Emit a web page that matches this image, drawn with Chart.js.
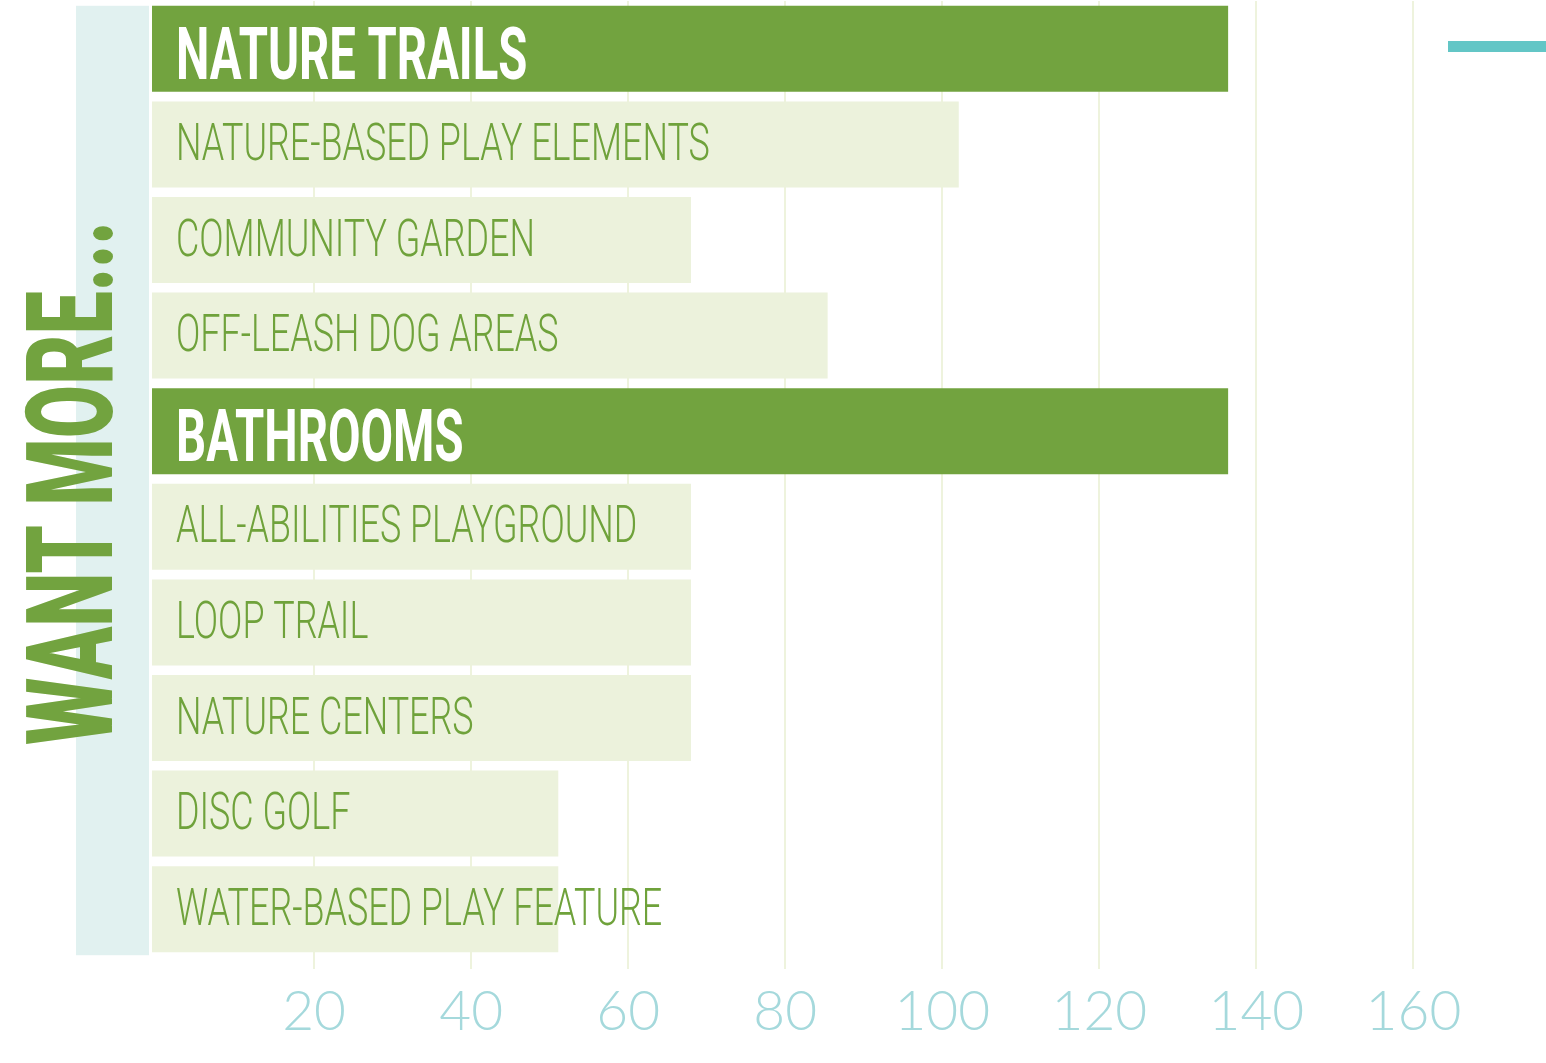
<!DOCTYPE html>
<html><head><meta charset="utf-8">
<script src="https://cdn.jsdelivr.net/npm/chart.js@4.4.1/dist/chart.umd.min.js"></script>
<style>html,body{margin:0;padding:0;background:#fff;}#wrap{width:1546px;height:1063px;position:relative;}</style>
</head><body><div id="wrap"><canvas id="c"></canvas></div>
<script>
const categories = ['NATURE TRAILS','NATURE-BASED PLAY ELEMENTS','COMMUNITY GARDEN','OFF-LEASH DOG AREAS','BATHROOMS','ALL-ABILITIES PLAYGROUND','LOOP TRAIL','NATURE CENTERS','DISC GOLF','WATER-BASED PLAY FEATURE'];
const responses = [136.4,102.1,68,85.4,136.4,68,68,68,51.1,51.1];
const tickValues = [20,40,60,80,100,120,140,160];
const axisTitle = 'WANT MORE...';

const DARK = '#72a33f', LIGHT = '#ecf2dc', TEXT_GREEN = '#6fa23b', GRID = '#eef3dd', TEAL = '#63c6c6', BAND = '#e1f1f0', TICK = '#a5d9dc';
const topValue = Math.max(...responses);
const axisMin = -0.64;

const decor = {
  id: 'decor',
  beforeDatasetsDraw(chart) {
    const ctx = chart.ctx, meta = chart.getDatasetMeta(0), ca = chart.chartArea;
    const first = meta.data[0], last = meta.data[meta.data.length - 1];
    const top = first.y - first.height / 2, bottom = last.y + last.height / 2 + 3;
    ctx.save();
    ctx.fillStyle = BAND;
    ctx.fillRect(ca.left - 76, top, 73, bottom - top);
    ctx.fillStyle = DARK;
    ctx.font = '900 120px Roboto';
    ctx.textAlign = 'center';
    ctx.textBaseline = 'alphabetic';
    ctx.translate(112, (ca.top + ca.bottom) / 2 + 4);
    ctx.rotate(-Math.PI / 2);
    ctx.scale(0.643, 1);
    ctx.fillText(axisTitle, 0, 0);
    ctx.restore();
  },
  afterDatasetsDraw(chart) {
    const ctx = chart.ctx, meta = chart.getDatasetMeta(0);
    meta.data.forEach((bar, i) => {
      const isTop = responses[i] === topValue;
      ctx.save();
      ctx.fillStyle = isTop ? '#ffffff' : TEXT_GREEN;
      ctx.font = isTop ? '700 72px Roboto' : '300 52px Roboto';
      ctx.textAlign = 'left';
      ctx.textBaseline = 'alphabetic';
      ctx.translate(bar.base + 24, bar.y + (isTop ? 30 : 15.5));
      ctx.scale(isTop ? 0.656 : 0.69, 1);
      ctx.fillText(categories[i], 0, 0);
      ctx.restore();
    });
  }
};

new Chart(document.getElementById('c'), {
  type: 'bar',
  data: {
    labels: categories,
    datasets: [{
      data: responses,
      base: axisMin,
      backgroundColor: responses.map(v => v === topValue ? DARK : LIGHT),
      borderWidth: 0,
      barPercentage: 0.9,
      categoryPercentage: 1
    }]
  },
  options: {
    indexAxis: 'y',
    responsive: true,
    maintainAspectRatio: false,
    animation: false,
    layout: { padding: { left: 152, top: 1, right: 0, bottom: 8 } },
    plugins: {
      tooltip: { enabled: false },
      legend: {
        display: true,
        position: 'right',
        align: 'start',
        maxWidth: 98,
        labels: {
          boxWidth: 140,
          boxHeight: 11,
          padding: 0,
          font: { size: 91 },
          generateLabels: () => [{ text: '', fillStyle: TEAL, strokeStyle: TEAL, lineWidth: 0, hidden: false, datasetIndex: 0 }]
        }
      }
    },
    scales: {
      x: {
        min: axisMin,
        max: 164.4,
        afterBuildTicks: axis => { axis.ticks = tickValues.map(v => ({ value: v })); },
        ticks: {
          color: TICK,
          font: { family: 'Lato', weight: 300, size: 55 },
          padding: 10,
          maxRotation: 0,
          autoSkip: false
        },
        grid: { color: GRID, lineWidth: 2, tickLength: 12 },
        border: { display: false }
      },
      y: { display: false, grid: { display: false } }
    }
  },
  plugins: [decor]
});
</script></body></html>
